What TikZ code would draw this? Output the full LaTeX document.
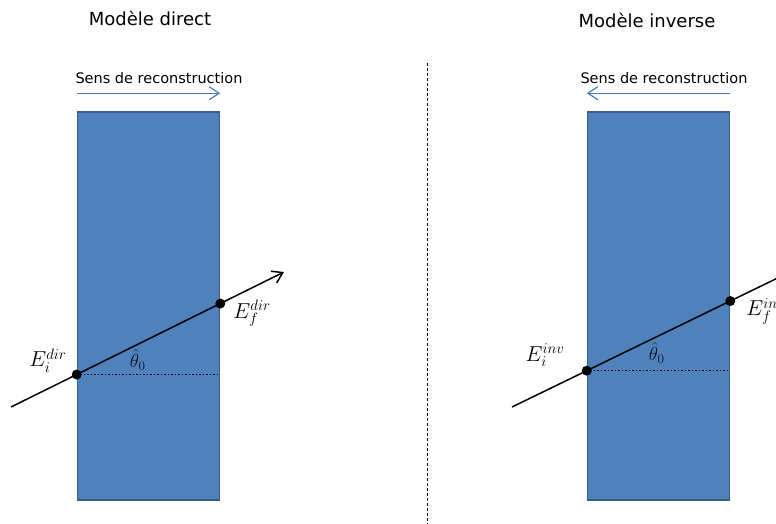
\documentclass[tikz,border=0pt]{standalone}
\usepackage[no-math]{fontspec}
\setmainfont{DejaVu Sans}
\usepackage{tikz}
\usetikzlibrary{arrows.meta,positioning,calc}
\definecolor{bleu}{RGB}{79,129,189}
\definecolor{bord}{RGB}{56,93,138}
\definecolor{fl}{RGB}{74,126,187}
\definecolor{nr}{RGB}{0,0,0}
\newcommand{\GRD}[1]{\scalebox{1.25}{$#1$}}

\begin{document}
\begin{tikzpicture}[x=1pt,y=-1pt,
    titre/.style={font=\fontsize{18}{20}\selectfont,text=nr},
    sens/.style={font=\fontsize{14.5}{16}\selectfont,text=nr},
    fsens/.style={-{Straight Barb[length=10pt,width=13pt]},draw=fl,line width=1.2pt},
    bloc/.style={draw=bord,fill=bleu,line width=1.5pt,minimum width=142pt,minimum height=388pt,inner sep=0pt},
    rayon/.style={-{Straight Barb[length=10pt,width=13pt]},line width=1.5pt,draw=nr},
    point/.style={circle,fill=nr,inner sep=0pt,minimum size=10pt},
    etiq/.style={font=\fontsize{17.28}{20}\selectfont,inner sep=0pt},
    angle/.style={font=\fontsize{17.28}{20}\selectfont,inner sep=0pt,text=nr!85!bleu}]
  \useasboundingbox (0,0) rectangle (776,524);

  % titres
  \node[titre] (tdir) at (150,18) {Modèle direct};
  \node[titre] (tinv) at (647,20) {Modèle inverse};

  % separation
  \draw[dash pattern=on 3pt off 2pt,line width=1pt] (427,63) -- (427,524);

  % blocs
  \node[bloc] (bdir) at (148.5,306) {};
  \node[bloc] (binv) at (658.5,306) {};

  % sens de reconstruction
  \node[sens] (sdir) at (159,78) {Sens de reconstruction};
  \node[sens] (sinv) at (664,78) {Sens de reconstruction};
  \coordinate (d0) at ($(bdir.north west)+(0,-18)$);
  \coordinate (d1) at ($(bdir.north east)+(0,-18)$);
  \coordinate (i0) at ($(binv.north east)+(0,-18)$);
  \coordinate (i1) at ($(binv.north west)+(0,-18)$);
  \draw[fsens] (d0) -- (d1);
  \draw[fsens] (i0) -- (i1);

  % modele direct
  \coordinate (rd0) at (11,407);
  \coordinate (rd1) at (284,272);
  \coordinate (Eid) at (intersection of rd0--rd1 and bdir.north west--bdir.south west);
  \coordinate (Efd) at (intersection of rd0--rd1 and bdir.north east--bdir.south east);
  \draw[dotted,line width=1.5pt,nr] (Eid) -- ($(Eid -| bdir.east)+(-3,0)$);
  \draw[rayon] (rd0) -- (rd1);
  \node[point] (pid) at (Eid) {};
  \node[point] (pfd) at (Efd) {};
  \node[etiq,anchor=south east] (lid) at ($(Eid)+(-10,-2)$) {\GRD{E_i^{dir}}};
  \node[etiq,anchor=north west] (lfd) at ($(Efd)+(13,-4)$) {\GRD{E_f^{dir}}};
  \node[angle] (thd) at ($(Eid)+(61,-15)$) {\scalebox{1.1}{$\hat{\theta}_0$}};

  % modele inverse
  \coordinate (ri0) at (512,407);
  \coordinate (ri1) at (790,272);
  \coordinate (Eii) at (intersection of ri0--ri1 and binv.north west--binv.south west);
  \coordinate (Efi) at (intersection of ri0--ri1 and binv.north east--binv.south east);
  \draw[dotted,line width=1.5pt,nr] (Eii) -- ($(Eii -| binv.east)+(-3,0)$);
  \draw[rayon] (ri0) -- (ri1);
  \node[point] (pii) at (Eii) {};
  \node[point] (pfi) at (Efi) {};
  \node[etiq,anchor=south east] (lii) at ($(Eii)+(-22,-4)$) {\GRD{E_i^{inv}}};
  \node[etiq,anchor=north west] (lfi) at ($(Efi)+(16,-3)$) {\GRD{E_f^{inv}}};
  \node[angle] (thi) at ($(Eii)+(70,-18)$) {\scalebox{1.1}{$\hat{\theta}_0$}};
\end{tikzpicture}
\end{document}
